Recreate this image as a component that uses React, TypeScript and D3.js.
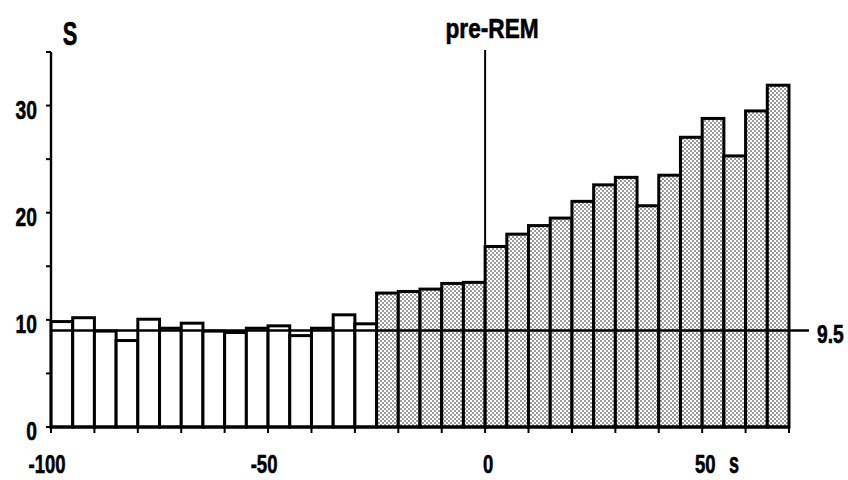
import React from "react";
import * as d3 from "d3";

// bin starts (seconds), 5 s bins
const binStarts = [
  -100, -95, -90, -85, -80, -75, -70, -65, -60, -55, -50, -45, -40, -35, -30,
  -25, -20, -15, -10, -5, 0, 5, 10, 15, 20, 25, 30, 35, 40, 45, 50, 55, 60, 65,
];
// values
const binValues = [
  9.84, 10.2, 8.95, 8.07, 10.06, 9.22, 9.69, 8.95, 8.82, 9.22, 9.44, 8.53, 9.22, 10.47, 9.63,
  12.5, 12.65, 12.87, 13.4, 13.5, 16.85, 18.0, 18.8, 19.5, 21.06, 22.6, 23.3, 20.65, 23.5,
  27.04, 28.8, 25.3, 29.5, 31.9,
];
const shadedFrom = -25;
const binWidth = 5;
const xTicks = [-100, -90, -80, -70, -60, -50, -40, -30, -20, -10, 0, 10, 20, 30, 40, 50, 60, 70];
const xTickLabels = [-100, -50, 0, 50];
const yTicks = [0, 5, 10, 15, 20, 25, 30, 35];
const yTickLabels = [0, 10, 20, 30];
const refLineValue = 9;
const refLineLabel = "9.5";
const markerX = 0;
const markerLabel = "pre-REM";

const FONT = "'Liberation Sans', Arial, sans-serif";

function T(props: {
  x: number;
  y: number;
  size: number;
  anchor?: "start" | "middle" | "end";
  sx?: number;
  children: React.ReactNode;
}) {
  const { x, y, size, anchor = "start", sx = 0.74, children } = props;
  return (
    <text
      transform={`translate(${x},${y}) scale(${sx},1)`}
      fontSize={size}
      textAnchor={anchor}
      fontFamily={FONT}
      fontWeight="bold"
      stroke="#000"
      strokeWidth={0.6}
    >
      {children}
    </text>
  );
}

export default function App() {
  const x = d3.scaleLinear().domain([-100, 70]).range([51, 789]);
  const y = d3.scaleLinear().domain([0, 35]).range([427, 52]);
  const y0 = y(0);

  return (
    <svg width={848} height={480} style={{ position: "absolute", left: 0, top: 0, background: "#fff" }}>
      <defs>
        <pattern id="dots" width={4} height={4} patternUnits="userSpaceOnUse">
          <rect width={4} height={4} fill="#fff" />
          <circle cx={1} cy={1} r={0.72} fill="#000" />
          <circle cx={3} cy={3} r={0.72} fill="#000" />
        </pattern>
      </defs>
      <rect width={848} height={480} fill="#fff" />

      {/* bars */}
      {binStarts.map((s, i) => (
        <rect
          key={s}
          x={x(s)}
          y={y(binValues[i])}
          width={x(s + binWidth) - x(s)}
          height={y0 - y(binValues[i])}
          fill={s >= shadedFrom ? "url(#dots)" : "#fff"}
          stroke="#000"
          strokeWidth={3}
        />
      ))}

      {/* reference line */}
      <line x1={x(-100)} x2={809} y1={y(refLineValue)} y2={y(refLineValue)} stroke="#000" strokeWidth={2.4} />
      <T x={817} y={y(refLineValue) + 12} size={26}>
        {refLineLabel}
      </T>

      {/* marker line */}
      <line x1={x(markerX)} x2={x(markerX)} y1={50} y2={y0} stroke="#000" strokeWidth={2} />
      <T x={x(markerX) + 7} y={38} size={27} anchor="middle" sx={0.84}>
        {markerLabel}
      </T>

      {/* y axis */}
      <line x1={51} x2={51} y1={y(35)} y2={y0 + 2} stroke="#000" strokeWidth={2.4} />
      {yTicks.map((t) => (
        <line key={t} x1={46} x2={51} y1={y(t)} y2={y(t)} stroke="#000" strokeWidth={2} />
      ))}
      {yTickLabels.map((t) => (
        <T key={t} x={37} y={y(t) + 13} size={26} anchor="end">
          {t}
        </T>
      ))}
      <T x={70} y={45} size={33} anchor="middle" sx={0.66}>
        S
      </T>

      {/* x axis */}
      <line x1={51} x2={x(70)} y1={y0} y2={y0} stroke="#000" strokeWidth={3} />
      {xTicks.map((t) => (
        <line key={t} x1={x(t)} x2={x(t)} y1={y0} y2={y0 + 6} stroke="#000" strokeWidth={2} />
      ))}
      {xTickLabels.map((t) => (
        <T key={t} x={x(t) + (t < 0 ? -4 : 3)} y={473} size={25} anchor="middle">
          {t}
        </T>
      ))}
      <T x={734} y={473} size={29} anchor="middle" sx={0.62}>
        s
      </T>
    </svg>
  );
}
